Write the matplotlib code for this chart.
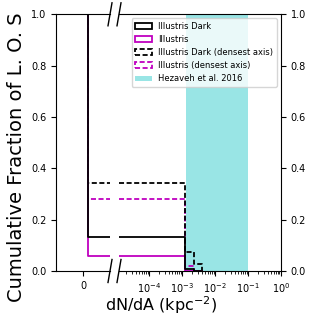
import matplotlib
matplotlib.use("Agg")
import matplotlib.pyplot as plt
from matplotlib.patches import Patch

# values (reverse cumulative fraction of L.O.S.)
zero_edge = 0.2                      # step position on the linear "0" panel
drop_edges = [1.2e-3, 2.3e-3, 4.0e-3]  # dN/dA where the curves step down

frac_dark = [0.134, 0.009, 0.0, 0.0]
frac_illustris = [0.058, 0.0, 0.0, 0.0]
frac_dark_dense = [0.344, 0.074, 0.028, 0.0]
frac_illustris_dense = [0.28, 0.02, 0.0, 0.0]

hezaveh_range = [1.3e-3, 0.1]

dash = (0, (2.8, 1.4))
series = [
    (frac_illustris_dense, 'm', dash, "Illustris (densest axis)"),
    (frac_dark_dense, 'k', dash, "Illustris Dark (densest axis)"),
    (frac_illustris, 'm', '-', "Illustris"),
    (frac_dark, 'k', '-', "Illustris Dark"),
]

fig = plt.figure(figsize=(3.19, 3.19), dpi=100)
ax1 = fig.add_axes([56 / 319, 48 / 319, 54 / 319, 256.7 / 319])
ax2 = fig.add_axes([119 / 319, 48 / 319, 162 / 319, 256.7 / 319])

x_left = -1.0
x_right = 1.0
x_min_log = 1.2e-5

for frac, c, ls, lab in series:
    # left (linear) panel around zero
    ax1.plot([x_left, zero_edge, zero_edge, x_right], [1.0, 1.0, frac[0], frac[0]],
             color=c, linestyle=ls, lw=1.3)
    # right (log) panel
    xs = [x_min_log] + drop_edges + [drop_edges[-1]]
    ys = frac + [0.0]
    ax2.step(xs, ys, where='post', color=c, linestyle=ls, lw=1.3)

ax2.axvspan(hezaveh_range[0], hezaveh_range[1], color='c', alpha=0.4, lw=0, zorder=0)

ax1.set_xlim(x_left, x_right)
ax1.set_ylim(0, 1)
ax1.set_xticks([0])
ax1.spines['right'].set_visible(False)
ax1.tick_params(labelsize=7)

ax2.set_xscale('log')
ax2.set_xlim(x_min_log, 1)
ax2.set_ylim(0, 1)
ax2.set_xticks([1e-4, 1e-3, 1e-2, 1e-1, 1e0])
ax2.spines['left'].set_visible(False)
ax2.yaxis.tick_right()
ax2.tick_params(labelsize=7)
ax2.tick_params(axis='y', which='both', left=False)

fig.text(0.053, 0.508, "Cumulative Fraction of L. O. S", fontsize=14,
         rotation=90, ha='center', va='center')
fig.text(0.505, 0.078, r"dN/dA (kpc$^{-2}$)", fontsize=11.5, ha='center', va='top')

# break marks
kw = dict(color='k', clip_on=False, lw=1.0)
dx1 = 2.0 / 54
dx2 = 2.0 / 162
dy = 11.5 / 256.7
ax1.plot([1 - dx1, 1 + dx1], [-dy, dy], transform=ax1.transAxes, **kw)
ax1.plot([1 - dx1, 1 + dx1], [1 - dy, 1 + dy], transform=ax1.transAxes, **kw)
ax2.plot([-dx2, dx2], [-dy, dy], transform=ax2.transAxes, **kw)
ax2.plot([-dx2, dx2], [1 - dy, 1 + dy], transform=ax2.transAxes, **kw)

handles = [
    Patch(facecolor='none', edgecolor='k', linestyle='-', lw=1.3, label="Illustris Dark"),
    Patch(facecolor='none', edgecolor='m', linestyle='-', lw=1.3, label="Illustris"),
    Patch(facecolor='none', edgecolor='k', linestyle=dash, lw=1.3, label="Illustris Dark (densest axis)"),
    Patch(facecolor='none', edgecolor='m', linestyle=dash, lw=1.3, label="Illustris (densest axis)"),
    Patch(facecolor='c', alpha=0.4, lw=0, label="Hezaveh et al. 2016"),
]
ax2.legend(handles=handles, loc='upper right', fontsize=6)

fig.savefig("out.png", dpi=100)
